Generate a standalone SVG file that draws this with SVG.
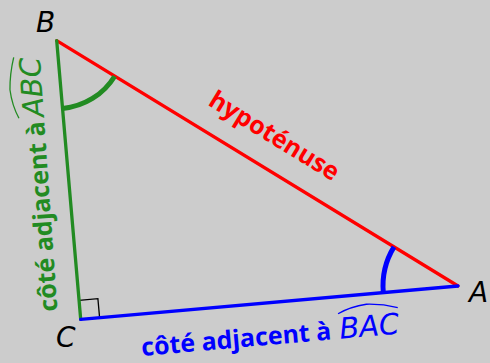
<svg xmlns="http://www.w3.org/2000/svg" width="490" height="363" viewBox="0 0 490 363">
<style>
.side{fill:none;stroke-width:3.3;stroke-linecap:round}
.arc{fill:none;stroke-width:5}
.lbl{font-family:"Open Sans","DejaVu Sans",sans-serif;font-weight:bold;font-size:25px}
.math{font-family:"DejaVu Sans",sans-serif;font-style:italic;font-size:29px}
.vtx{font-family:"DejaVu Sans",sans-serif;font-style:italic;font-size:28px;fill:#000}
.hat{fill:none;stroke-width:1.3}
</style>
<rect width="490" height="363" fill="#cccccc"/>
<g id="right-angle">
<path d="M99.6,317.6 L97.9,298.7 L79,300.4" fill="none" stroke="#000" stroke-width="1.3"/>
</g>
<g id="connectors">
<line id="side-BA" class="side" x1="56.7" y1="40.7" x2="458" y2="286" stroke="#ff0000" stroke-width="3"/>
<line id="side-BC" class="side" x1="56.7" y1="40.7" x2="80.7" y2="319.3" stroke="#228b22"/>
<line id="side-CA" class="side" x1="80.7" y1="319.3" x2="458" y2="286" stroke="#0000ff"/>
</g>
<g id="angle-B">
<path class="arc" d="M62.6,108.4 A68,68 0 0 0 114.7,76.2" stroke="#228b22"/>
</g>
<g id="angle-A">
<path class="arc" d="M383.3,292.6 A75,75 0 0 1 394,246.9" stroke="#0000ff"/>
</g>
<g id="vertex-B"><text class="vtx" x="36" y="32">B</text></g>
<g id="vertex-C"><text class="vtx" x="56" y="346.5">C</text></g>
<g id="vertex-A"><text class="vtx" x="469" y="301.5">A</text></g>
<g id="label-hyp">
<text class="lbl" fill="#ff0000" text-anchor="middle" transform="translate(270,143) rotate(31.5)">hypoténuse</text>
</g>
<g id="label-BAC" transform="translate(142,356) rotate(-5)">
<text class="lbl" fill="#0000ff" x="0" y="0">côté adjacent à</text>
<text class="math" fill="#0000ff" x="199" y="0">BAC</text>
<path class="hat" stroke="#0000ff" d="M199,-25 Q212,-31 228,-32 Q244,-31 259,-26"/>
</g>
<g id="label-ABC" transform="translate(57.5,311) rotate(-94)">
<text class="lbl" fill="#228b22" x="0" y="0">côté adjacent à</text>
<text class="math" fill="#228b22" x="195" y="0">ABC</text>
<path class="hat" stroke="#228b22" d="M195,-25 Q208,-31 224,-32 Q240,-31 256,-26"/>
</g>
</svg>
